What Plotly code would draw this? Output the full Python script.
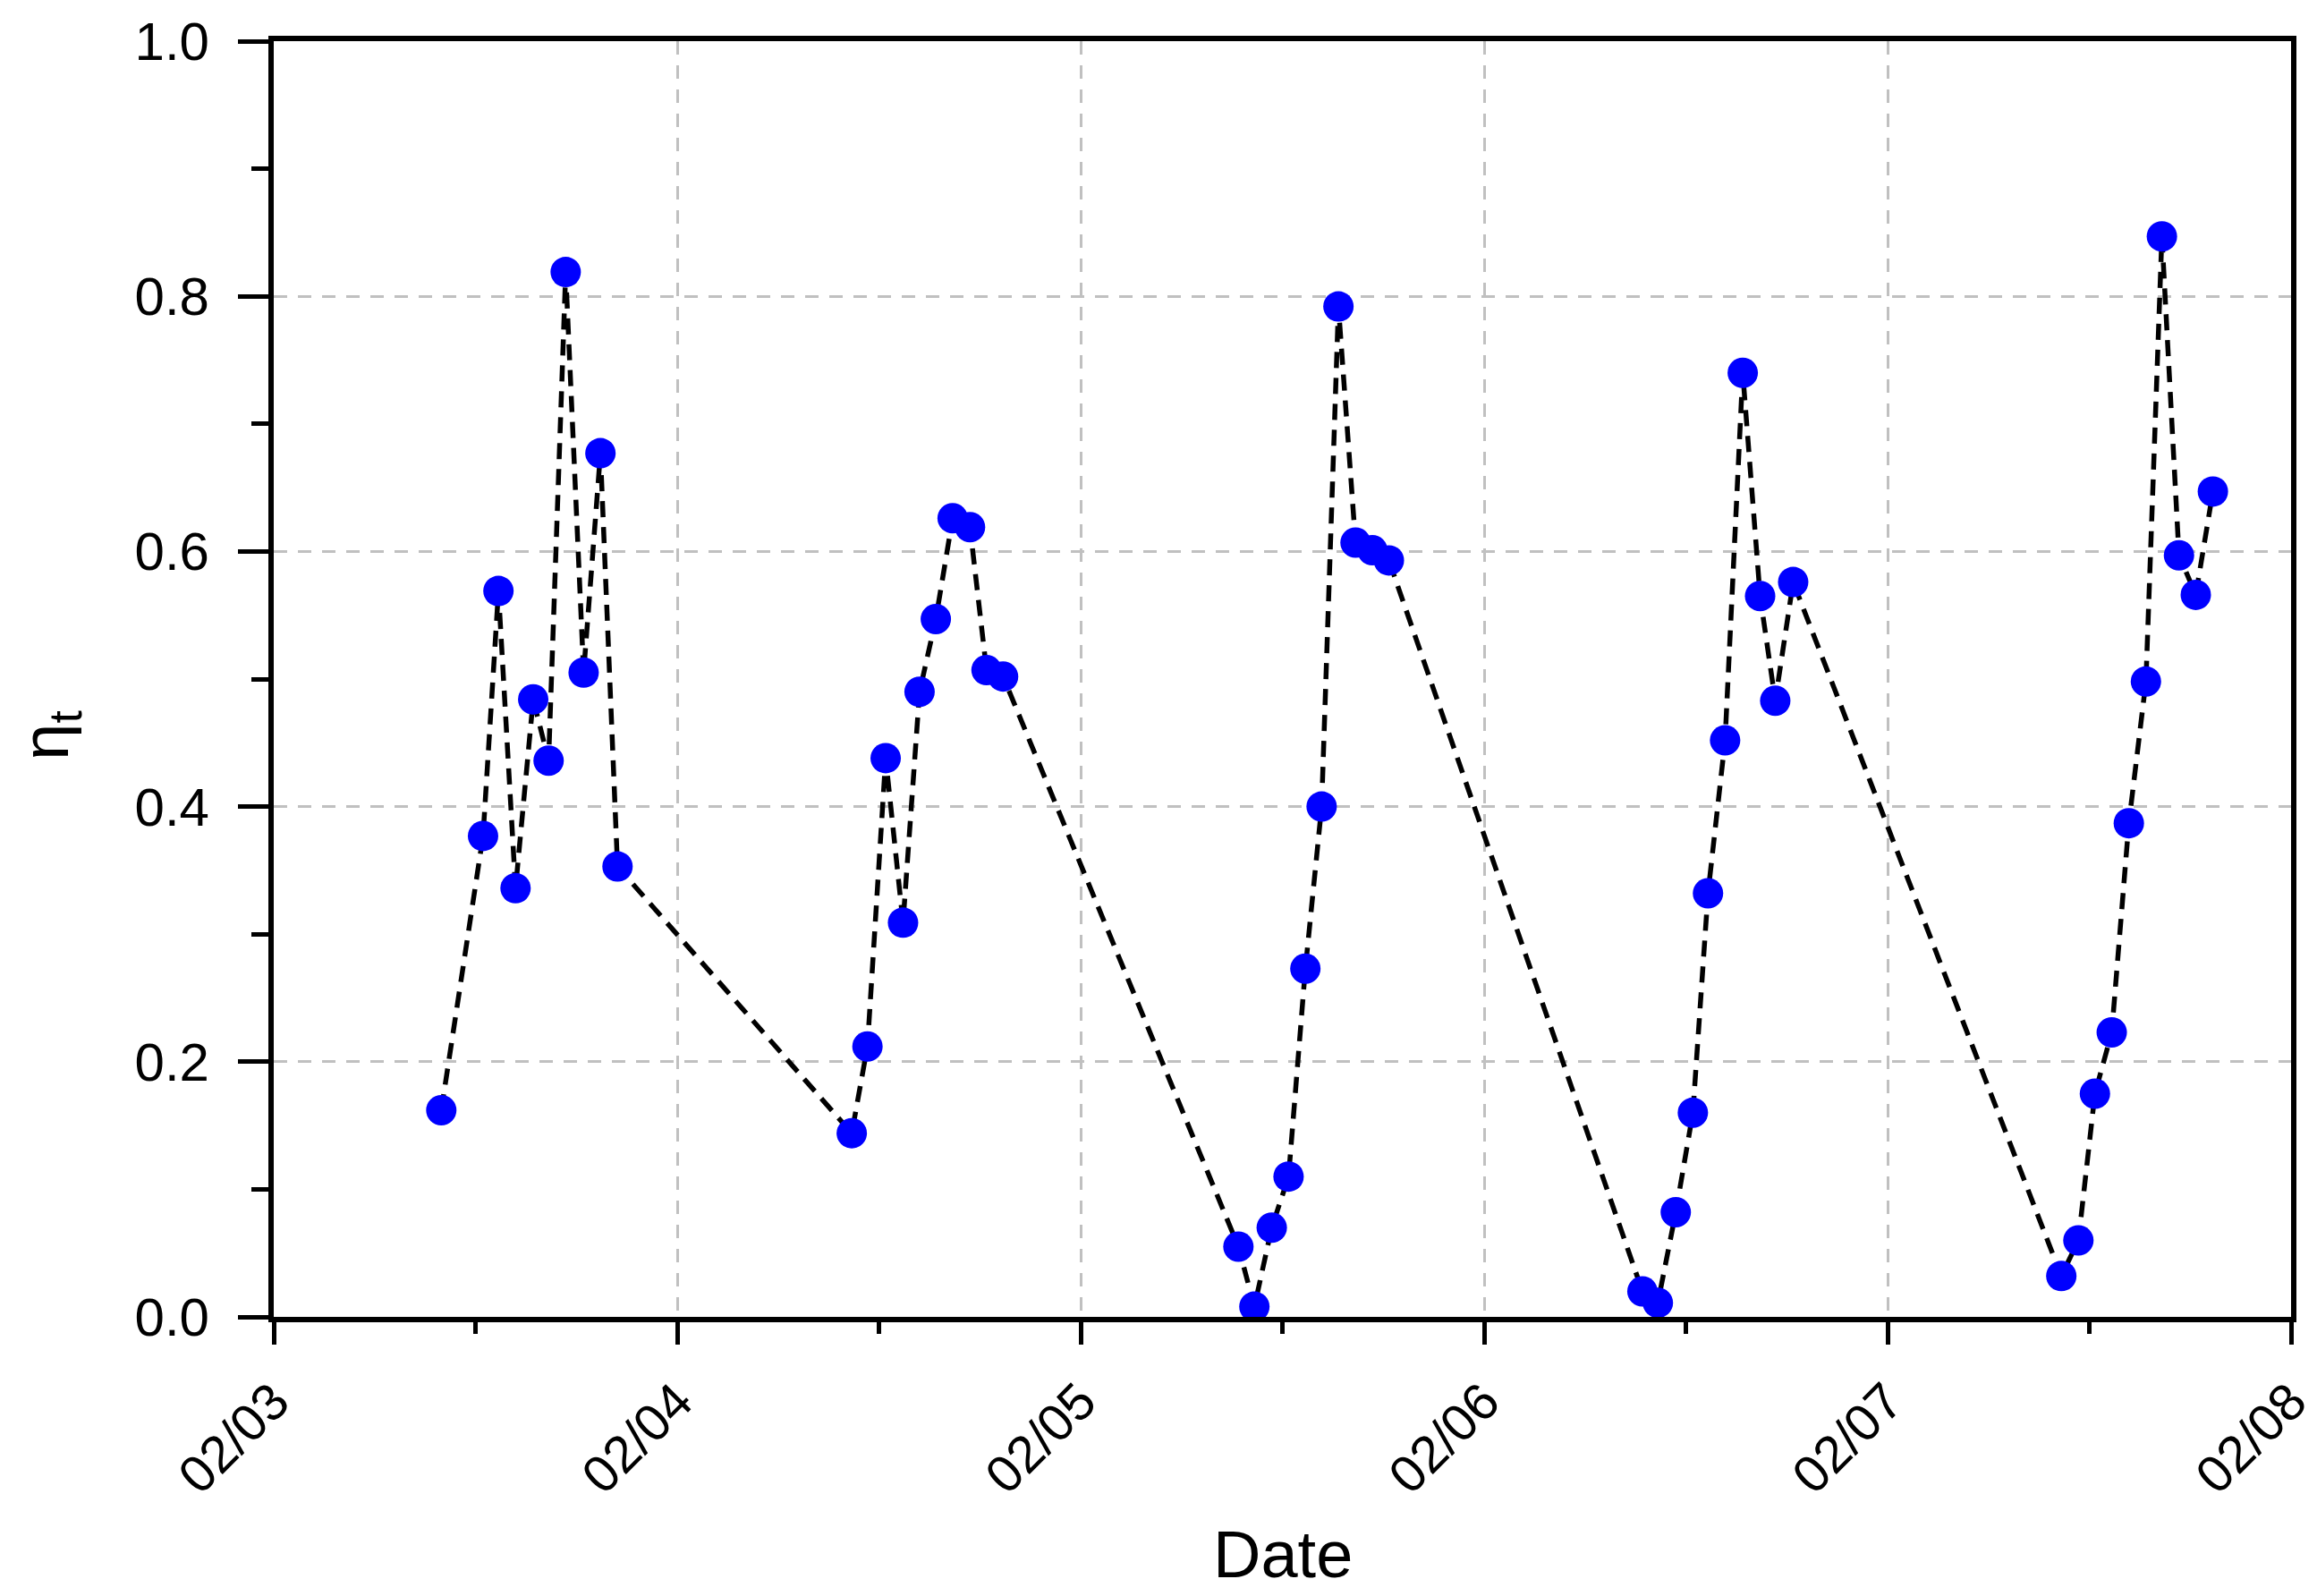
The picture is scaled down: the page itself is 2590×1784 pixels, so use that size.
import plotly.graph_objects as go

# Sampling times (local time) and efficiency values
times = [
    "2021-02-03 09:58", "2021-02-03 12:27", "2021-02-03 13:22", "2021-02-03 14:23", "2021-02-03 15:26",
    "2021-02-03 16:21", "2021-02-03 17:22", "2021-02-03 18:26", "2021-02-03 19:26", "2021-02-03 20:27",
    "2021-02-04 10:23", "2021-02-04 11:19", "2021-02-04 12:24", "2021-02-04 13:26", "2021-02-04 14:25",
    "2021-02-04 15:23", "2021-02-04 16:23", "2021-02-04 17:25", "2021-02-04 18:24", "2021-02-04 19:23",
    "2021-02-05 09:23", "2021-02-05 10:20", "2021-02-05 11:22", "2021-02-05 12:22", "2021-02-05 13:22",
    "2021-02-05 14:20", "2021-02-05 15:20", "2021-02-05 16:21", "2021-02-05 17:21", "2021-02-05 18:20",
    "2021-02-06 09:25", "2021-02-06 10:20", "2021-02-06 11:24", "2021-02-06 12:25", "2021-02-06 13:19",
    "2021-02-06 14:20", "2021-02-06 15:23", "2021-02-06 16:25", "2021-02-06 17:19", "2021-02-06 18:23",
    "2021-02-07 10:20", "2021-02-07 11:21", "2021-02-07 12:20", "2021-02-07 13:20", "2021-02-07 14:21",
    "2021-02-07 15:22", "2021-02-07 16:19", "2021-02-07 17:20", "2021-02-07 18:20", "2021-02-07 19:21",
]
eta = [
    0.162, 0.377, 0.569, 0.336, 0.484, 0.436, 0.819, 0.505, 0.677, 0.353,
    0.144, 0.212, 0.438, 0.309, 0.490, 0.547, 0.626, 0.619, 0.507, 0.502,
    0.055, 0.008, 0.070, 0.110, 0.273, 0.400, 0.792, 0.607, 0.601, 0.593,
    0.020, 0.011, 0.082, 0.160, 0.332, 0.452, 0.740, 0.565, 0.483, 0.576,
    0.032, 0.060, 0.175, 0.223, 0.387, 0.498, 0.847, 0.597, 0.566, 0.647,
]

x_range = ["2021-02-03", "2021-02-08"]
y_range = [0, 1.0]
x_title = "Date"
y_title = "η<sub>t</sub>"

FONT = "Liberation Sans, Arial, sans-serif"

fig = go.Figure()
fig.add_trace(go.Scatter(
    x=times, y=eta, mode="lines+markers",
    line=dict(color="black", width=5.5, dash="18px,11px"),
    marker=dict(color="#0000ff", size=34, line=dict(width=0)),
    showlegend=False,
))

axis_common = dict(
    showline=True, linecolor="black", linewidth=6, mirror=True,
    ticks="outside", tickcolor="black", tickwidth=5,
    showgrid=True, gridcolor="#c0c0c0", gridwidth=3, griddash="15px,12px",
    zeroline=False, layer="above traces", ticklabeloverflow="allow",
)

fig.update_xaxes(
    **axis_common,
    tickfont=dict(family=FONT, size=58, color="black"),
    type="date", range=x_range, dtick=86400000, tick0="2021-02-03",
    tickformat="%m/%d", tickangle=-45, ticklen=25, ticklabelstandoff=6,
    minor=dict(dtick=43200000, ticks="outside", ticklen=13, tickwidth=5,
               tickcolor="black", showgrid=False),
)
fig.update_yaxes(
    **axis_common,
    tickfont=dict(family=FONT, size=60, color="black"),
    range=y_range, dtick=0.2, tick0=0, tickformat=".1f", ticklen=34,
    ticklabelstandoff=20,
    minor=dict(dtick=0.1, ticks="outside", ticklen=19, tickwidth=5,
               tickcolor="black", showgrid=False),
)

fig.add_annotation(
    text=x_title, xref="paper", yref="paper", x=0.5, y=-0.1865,
    xanchor="center", yanchor="middle", showarrow=False,
    font=dict(family=FONT, size=74, color="black"),
)
fig.add_annotation(
    text=y_title, xref="paper", yref="paper", x=-0.111, y=0.4558,
    xanchor="center", yanchor="middle", showarrow=False, textangle=-90,
    font=dict(family=FONT, size=74, color="black"),
)

fig.update_layout(
    width=2582, height=1776,
    margin=dict(l=298, r=29, t=38, b=312, autoexpand=False),
    paper_bgcolor="white", plot_bgcolor="white",
    font=dict(family=FONT, color="black"),
)

fig.write_html("out.html")
